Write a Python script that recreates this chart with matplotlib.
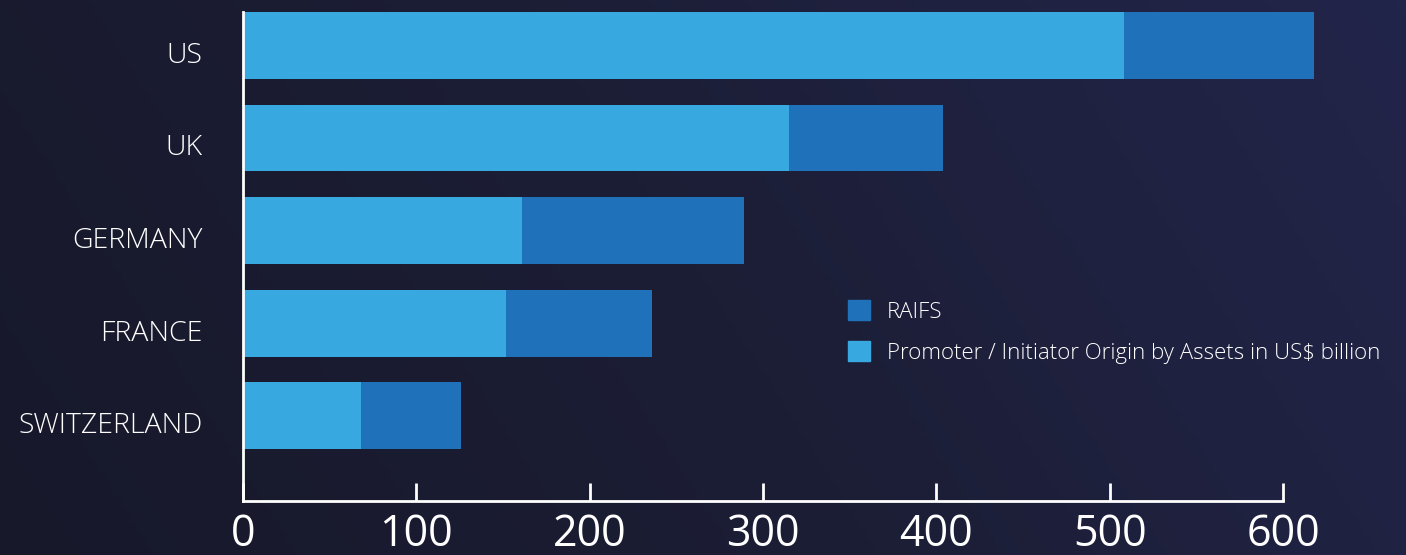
import numpy as np
import matplotlib.pyplot as plt
import matplotlib.transforms as mtransforms
from matplotlib.colors import LinearSegmentedColormap
from matplotlib.patches import Patch

countries = ['US', 'UK', 'GERMANY', 'FRANCE', 'SWITZERLAND']
promoter = [508, 315, 161, 152, 68]
raifs = [110, 89, 128, 84, 57.5]
xticks = [0, 100, 200, 300, 400, 500, 600]

light = '#38a9e0'
dark = '#1f72ba'

fig = plt.figure(figsize=(14.06, 5.55), dpi=100)

# background gradient, dark at the left, navy at the right
bg = fig.add_axes([0, 0, 1, 1], zorder=-10)
gx, gy = np.meshgrid(np.linspace(0, 1, 300), np.linspace(0, 1, 120))
grad = 0.8 * gx + 0.2 * (1 - gy)
cmap = LinearSegmentedColormap.from_list('bg', ['#17182a', '#1c1e36', '#22254a'])
bg.imshow(grad, cmap=cmap, aspect='auto', extent=[0, 1, 0, 1])
bg.axis('off')

ax = fig.add_axes([243 / 1406, (555 - 501) / 555, (1283 - 243) / 1406, (501 - 12) / 555])
ax.patch.set_alpha(0)

y = np.arange(len(countries))
ax.barh(y, promoter, height=0.724, color=light, clip_on=False,
        label='Promoter / Initiator Origin by Assets in US$ billion')
ax.barh(y, raifs, left=promoter, height=0.724, color=dark, clip_on=False, label='RAIFS')

ax.set_xlim(0, 600)
ax.set_ylim(4.924, -0.362)
ax.set_xticks(xticks)
ax.set_yticks(y)
ax.set_yticklabels(countries, fontsize=20.5, family='Open Sans', weight='light', color='white')
ax.tick_params(axis='y', length=0, pad=29)
ax.tick_params(axis='x', direction='in', length=13, width=2, color='white',
               labelsize=31, labelcolor='white', pad=8)
for lab in ax.get_xticklabels():
    lab.set_family('Open Sans')
# country names sit a little below the bar centres
shift = mtransforms.ScaledTranslation(0, -7 / 100, fig.dpi_scale_trans)
for lab in ax.get_yticklabels():
    lab.set_transform(lab.get_transform() + shift)

for side in ['top', 'right']:
    ax.spines[side].set_visible(False)
for side in ['left', 'bottom']:
    ax.spines[side].set_color('white')
    ax.spines[side].set_linewidth(2)

handles = [Patch(color=dark), Patch(color=light)]
labels = ['RAIFS', 'Promoter / Initiator Origin by Assets in US$ billion']
leg = fig.legend(handles, labels, loc='upper left', bbox_to_anchor=(848 / 1406, 1 - 300 / 555),
                 frameon=False, handlelength=1.0, handleheight=1.0, borderpad=0,
                 borderaxespad=0, labelspacing=0.85, handletextpad=0.75,
                 prop={'family': 'Open Sans', 'weight': 'light', 'size': 16})
for t in leg.get_texts():
    t.set_color('white')

fig.savefig('out.png', dpi=100)
